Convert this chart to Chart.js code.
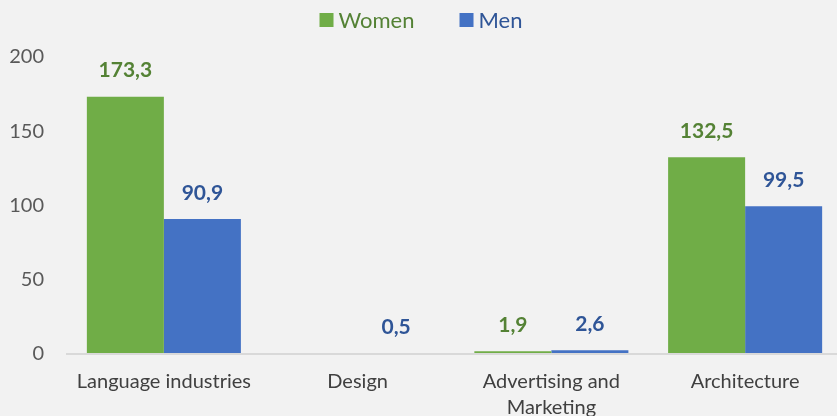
<!DOCTYPE html>
<html>
<head>
<meta charset="utf-8">
<script src="https://cdn.jsdelivr.net/npm/chart.js@4"></script>
<style>
  html, body { margin: 0; padding: 0; background: #F2F2F2; overflow: hidden; }
  #wrap { width: 842px; height: 416px; }
</style>
</head>
<body>
<div id="wrap"><canvas id="c"></canvas></div>
<script>
const categories = ["Language industries", "Design", ["Advertising and", "Marketing"], "Architecture"];
const seriesNames = ["Women", "Men"];
const women = [173.3, null, 1.9, 132.5];
const men = [90.9, 0.5, 2.6, 99.5];
const yTicks = [0, 50, 100, 150, 200];

const FONT = "Lato, 'Open Sans', sans-serif";

const dataLabels = {
  id: 'dataLabels',
  afterDatasetsDraw(chart) {
    const ctx = chart.ctx;
    chart.data.datasets.forEach((ds, di) => {
      const meta = chart.getDatasetMeta(di);
      meta.data.forEach((bar, i) => {
        const v = ds.data[i];
        if (v === null || v === undefined) return;
        ctx.save();
        ctx.font = "bold 21px " + FONT;
        ctx.fillStyle = ds.labelColor;
        ctx.textAlign = 'center';
        ctx.textBaseline = 'middle';
        ctx.fillText(v.toFixed(1).replace('.', ','), bar.x, bar.y - 26);
        ctx.restore();
      });
    });
  }
};

const topLegend = {
  id: 'topLegend',
  afterDraw(chart) {
    const ctx = chart.ctx;
    const box = 14, gap = 5, itemGap = 45, cy = 20;
    ctx.save();
    ctx.font = "22px " + FONT;
    ctx.textBaseline = 'middle';
    ctx.textAlign = 'left';
    const items = chart.data.datasets.map(ds => ({ ds, w: ctx.measureText(ds.label).width }));
    let total = 0;
    items.forEach((it, i) => { total += box + gap + it.w + (i ? itemGap : 0); });
    let x = (chart.width - total) / 2;
    items.forEach((it, i) => {
      if (i) x += itemGap;
      ctx.fillStyle = it.ds.backgroundColor;
      ctx.fillRect(x, cy - box / 2, box, box);
      x += box + gap;
      ctx.fillStyle = it.ds.textColor;
      ctx.fillText(it.ds.label, x, cy + 1);
      x += it.w;
    });
    ctx.restore();
  }
};

new Chart(document.getElementById('c'), {
  type: 'bar',
  data: {
    labels: categories,
    datasets: [
      { label: seriesNames[0], data: women, backgroundColor: '#70AD47', labelColor: '#548235', textColor: '#548235',
        categoryPercentage: 0.795, barPercentage: 1.0 },
      { label: seriesNames[1], data: men, backgroundColor: '#4472C4', labelColor: '#2F5597', textColor: '#2F5597',
        categoryPercentage: 0.795, barPercentage: 1.0 }
    ]
  },
  options: {
    responsive: true,
    maintainAspectRatio: false,
    animation: false,
    layout: { padding: { top: 57, left: 0, right: 0, bottom: 0 } },
    plugins: {
      tooltip: { enabled: false },
      legend: { display: false }
    },
    scales: {
      x: {
        grid: { display: false, drawTicks: false },
        border: { display: true, color: '#D9D9D9', width: 2, z: 1 },
        ticks: { color: '#404040', font: { family: FONT, size: 20, lineHeight: 1.3 }, padding: 15, maxRotation: 0, autoSkip: false },
        afterFit(scale) { scale.height = 62; }
      },
      y: {
        min: 0, max: 200,
        afterBuildTicks(scale) { scale.ticks = yTicks.map(v => ({ value: v })); },
        grid: { display: false, drawTicks: false },
        border: { display: false },
        ticks: { color: '#595959', font: { family: FONT, size: 20 }, padding: 23 },
        afterFit(scale) { scale.width = 67; }
      }
    }
  },
  plugins: [dataLabels, topLegend]
});
</script>
</body>
</html>
